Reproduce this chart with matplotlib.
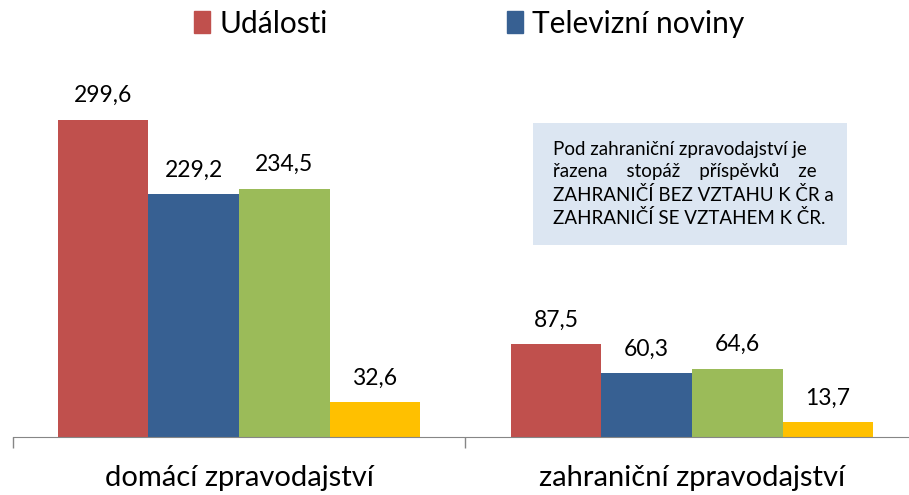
import numpy as np
import matplotlib.pyplot as plt
from matplotlib.patches import Patch, Rectangle

categories = ["domácí zpravodajství", "zahraniční zpravodajství"]
series = ["Události", "Televizní noviny", "série 3", "série 4"]
udalosti = [299.6, 87.5]
televizni_noviny = [229.2, 60.3]
serie3 = [234.5, 64.6]
serie4 = [32.6, 13.7]
values = [udalosti, televizni_noviny, serie3, serie4]
colors = ["#C0504D", "#376092", "#9BBB59", "#FFC000"]

note_lines = ["Pod zahraniční zpravodajství je",
              "řazena    stopáž    příspěvků    ze",
              "ZAHRANIČÍ BEZ VZTAHU K ČR a",
              "ZAHRANIČÍ SE VZTAHEM K ČR."]

plt.rcParams["font.family"] = ["Lato", "DejaVu Sans"]

fig = plt.figure(figsize=(9.09, 4.95), dpi=100)
ax = fig.add_axes([12.5 / 909, 58 / 495, 906 / 909, 377 / 495])

x = np.arange(len(categories))
w = 0.2
for i, (vals, c) in enumerate(zip(values, colors)):
    pos = x + (i - 1.5) * w
    bars = ax.bar(pos, vals, width=w, color=c, linewidth=0)
    for b, v in zip(bars, vals):
        ax.text(b.get_x() + b.get_width() / 2, v + 13, f"{v:.1f}".replace(".", ","),
                ha="center", va="bottom", fontsize=16.5)

ax.set_xlim(-0.5, 1.5)
ax.set_ylim(0, 356)
ax.set_yticks([])
ax.set_xticks(x)
ax.set_xticklabels(categories, fontsize=21)
ax.tick_params(axis="x", which="major", length=0, pad=20)
ax.set_xticks([-0.5, 0.5, 1.5], minor=True)
ax.tick_params(axis="x", which="minor", length=8, color="#868686", width=1)
for s in ["top", "right", "left"]:
    ax.spines[s].set_visible(False)
ax.spines["bottom"].set_color("#868686")

# poznámka v modrém rámečku
fig.add_artist(Rectangle((533 / 909, 250 / 495), 314 / 909, 122 / 495,
                         transform=fig.transFigure, facecolor="#DCE6F2",
                         edgecolor="none", zorder=1))
fig.text(553 / 909, 311 / 495, "\n".join(note_lines), ha="left", va="center",
         fontsize=13.5, linespacing=1.38, zorder=2)

handles = [Patch(color=colors[0]), Patch(color=colors[1])]
fig.legend(handles, series[:2], loc="upper center", bbox_to_anchor=(0.516, 1.035),
           ncol=2, frameon=False, fontsize=21.5, handlelength=0.55, handleheight=0.75,
           handletextpad=0.3, columnspacing=6.0)

fig.savefig("out.png", dpi=100)
